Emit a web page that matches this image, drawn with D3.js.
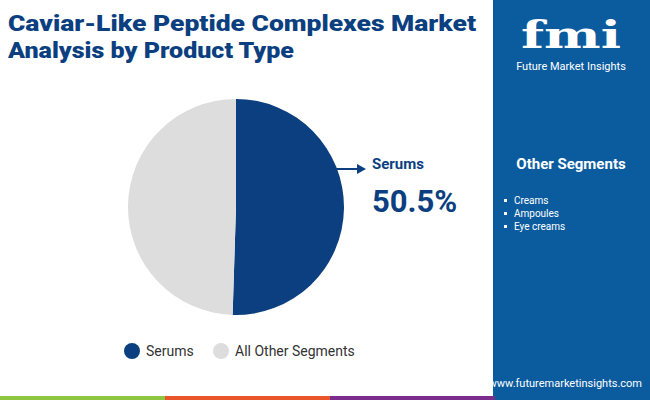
<!DOCTYPE html><html><head><meta charset="utf-8"><script src="https://d3js.org/d3.v7.min.js"></script>
<style>body{margin:0}svg{font-family:Roboto,"Open Sans",sans-serif;display:block}</style></head><body><svg width="650" height="400"></svg>
<script>
const categories=["Serums","All Other Segments"];
const values=[50.5,49.5];
const colors=["#0b3f7f","#dddddd"];
const otherSegments=["Creams","Ampoules","Eye creams"];
const svg=d3.select("svg");
svg.append("rect").attr("width",650).attr("height",400).attr("fill","#fff");
svg.append("rect").attr("x",493).attr("width",157).attr("height",400).attr("fill","#0b5c9e");
const t=svg.append("text").attr("fill","#0b3f7f").attr("font-weight",900).attr("font-size",22.5);
t.append("tspan").attr("x",8).attr("y",31).attr("textLength",468).attr("lengthAdjust","spacingAndGlyphs").text("Caviar-Like Peptide Complexes Market");
t.append("tspan").attr("x",8).attr("y",58).attr("textLength",286).attr("lengthAdjust","spacingAndGlyphs").text("Analysis by Product Type");
// logo
svg.append("text").attr("x",571).attr("y",48).attr("text-anchor","middle").attr("fill","#fff").attr("font-size",38).attr("font-weight",700).attr("font-family","DejaVu Serif").attr("textLength",100).attr("lengthAdjust","spacingAndGlyphs").text("fmi");
svg.append("text").attr("x",571).attr("y",70).attr("text-anchor","middle").attr("fill","#fff").attr("font-size",11).text("Future Market Insights");
const pie=d3.pie().sort(null).value(d=>d)(values);
const arc=d3.arc().innerRadius(0).outerRadius(108);
svg.append("g").attr("transform","translate(236,207)").selectAll("path").data(pie).join("path").attr("d",arc).attr("fill",(d,i)=>colors[i]);
svg.append("line").attr("x1",335).attr("y1",169).attr("x2",358).attr("y2",169).attr("stroke","#0b3f7f").attr("stroke-width",2);
svg.append("path").attr("d","M366,169 L357,164 L357,174Z").attr("fill","#0b3f7f");
svg.append("text").attr("x",372).attr("y",169).attr("fill","#0b3f7f").attr("font-weight",700).attr("font-size",15).text(categories[0]);
svg.append("text").attr("x",372).attr("y",212).attr("fill","#0b3f7f").attr("font-weight",700).attr("font-size",31).text(values[0].toFixed(1)+"%");
const lg=svg.append("g");
[[132,0],[221,1]].forEach(([x,i])=>{lg.append("circle").attr("cx",x).attr("cy",351).attr("r",8).attr("fill",colors[i]);
lg.append("text").attr("x",x+14).attr("y",356).attr("font-size",14).attr("fill","#333").text(categories[i]);});
svg.append("text").attr("x",571).attr("y",169).attr("text-anchor","middle").attr("fill","#fff").attr("font-weight",700).attr("font-size",15).text("Other Segments");
otherSegments.forEach((s,i)=>{svg.append("rect").attr("x",504).attr("y",199+i*13).attr("width",3).attr("height",3).attr("fill","#fff");
svg.append("text").attr("x",514).attr("y",204+i*13).attr("fill","#fff").attr("font-size",10).text(s);});
svg.append("text").attr("x",642).attr("y",387).attr("text-anchor","end").attr("fill","#fff").attr("font-size",11).text("www.futuremarketinsights.com");
[["#8dc63f",0],["#e8562a",165],["#7b2d8e",330]].forEach(([c,x])=>svg.append("rect").attr("x",x).attr("y",396).attr("width",165).attr("height",4).attr("fill",c));
</script></body></html>
